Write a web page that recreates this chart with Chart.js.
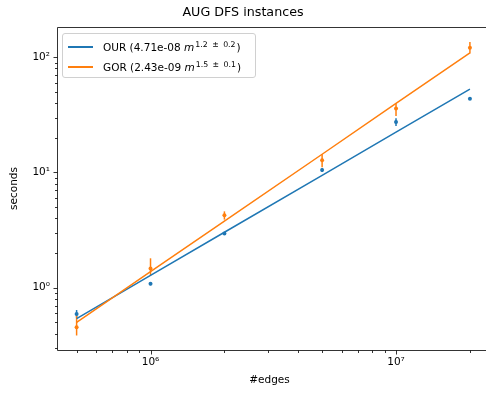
<!DOCTYPE html>
<html lang="en">
<head>
<meta charset="UTF-8">
<title>AUG DFS instances</title>
<script src="https://cdn.jsdelivr.net/npm/chart.js"></script>
<style>
    body {
        margin: 0;
        background: #fff;
        font-family: "DejaVu Sans", sans-serif;
    }
    .wrap {
        position: relative;
        width: 486px;
        height: 394px;
        overflow: hidden;
    }
    .legend {
        position: absolute;
        left: 62px;
        top: 33px;
        width: 194px;
        height: 45px;
        box-sizing: border-box;
        padding: 3px 0 0 5px;
        border: 1px solid #d0d0d0;
        border-radius: 3px;
        background: rgba(255, 255, 255, 0.8);
        font-size: 10.5px;
        color: #000;
    }
    .legend .row {
        height: 20px;
        display: flex;
        align-items: center;
        white-space: nowrap;
    }
    .legend .swatch {
        display: inline-block;
        width: 25px;
        height: 0;
        border-top: 2px solid;
        margin-right: 10px;
    }
    .legend sup {
        font-size: 7.8px;
        vertical-align: 4.5px;
        line-height: 0;
        word-spacing: 2px;
        margin-left: 1px;
        margin-right: 1px;
    }
</style>
</head>
<body>
<div class="wrap">
    <canvas id="chart" width="486" height="394"></canvas>
    <div class="legend" id="legend"></div>
</div>
<script>
    // measured instances
    const edges = [5e5, 1e6, 2e6, 5e6, 1e7, 2e7];
    const ourTime = [0.59, 1.08, 2.95, 10.5, 27.5, 43.6];
    const ourLow  = [0.55, 1.05, 2.87, 10.1, 25.3, 42.6];
    const ourHigh = [0.64, 1.11, 3.03, 10.9, 29.6, 44.6];
    const gorTime = [0.454, 1.47, 4.25, 12.8, 36, 121];
    const gorLow  = [0.385, 1.28, 3.9, 11.1, 31, 108];
    const gorHigh = [0.57, 1.8, 4.6, 14.4, 40, 136];
    // power-law fits evaluated at the same sizes
    const ourFit = [0.54, 1.28, 3.03, 9.46, 22.4, 53];
    const gorFit = [0.50, 1.38, 3.79, 14.4, 39.8, 109];

    const names = ['OUR', 'GOR'];
    const coefs = ['4.71e-08', '2.43e-09'];
    const exps = ['1.2 ± 0.2', '1.5 ± 0.1'];
    const colors = ['#1f77b4', '#ff7f0e'];

    const legend = document.getElementById('legend');
    names.forEach((n, i) => {
        const row = document.createElement('div');
        row.className = 'row';
        row.innerHTML = `<span class="swatch" style="border-color:${colors[i]}"></span>` +
            `<span>${n} (${coefs[i]} <i>m</i><sup>${exps[i]}</sup>)</span>`;
        legend.appendChild(row);
    });

    const pts = (xs, ys) => xs.map((x, i) => ({ x: x, y: ys[i] }));
    const sup = '⁰¹²³⁴⁵⁶⁷⁸⁹';
    const isPow10 = v => Math.abs(Math.log10(v) - Math.round(Math.log10(v))) < 1e-9;
    const keepNice = scale => {
        scale.ticks = scale.ticks.filter(t => {
            const p = Math.floor(Math.log10(t.value) + 1e-9);
            const s = t.value / Math.pow(10, p);
            return Math.abs(s - Math.round(s)) < 1e-6;
        });
    };
    const powLabel = v => {
        if (!isPow10(v)) return '';
        return '10' + String(Math.round(Math.log10(v))).split('').map(d => sup[+d]).join('');
    };

    // error bars, drawn through the scales
    const errorBars = {
        id: 'errorBars',
        beforeDatasetsDraw(chart) {
            const { ctx, scales: { x, y } } = chart;
            const sets = [[ourLow, ourHigh, colors[0]], [gorLow, gorHigh, colors[1]]];
            ctx.save();
            ctx.lineWidth = 1.5;
            sets.forEach(([lo, hi, c]) => {
                ctx.strokeStyle = c;
                edges.forEach((e, i) => {
                    const px = x.getPixelForValue(e);
                    ctx.beginPath();
                    ctx.moveTo(px, y.getPixelForValue(lo[i]));
                    ctx.lineTo(px, y.getPixelForValue(hi[i]));
                    ctx.stroke();
                });
            });
            ctx.restore();
        }
    };

    // matplotlib-like spines and tick marks (right spine falls outside the figure)
    const frame = {
        id: 'frame',
        afterDraw(chart) {
            const { ctx, chartArea: a, scales: { x, y } } = chart;
            const l = Math.round(a.left) + 0.5, t = Math.round(a.top) + 0.5, b = Math.round(a.bottom) + 0.5;
            ctx.save();
            ctx.strokeStyle = '#000';
            ctx.lineWidth = 0.8;
            ctx.beginPath();
            x.ticks.forEach(tk => {
                const px = Math.round(x.getPixelForValue(tk.value)) + 0.5;
                ctx.moveTo(px, b);
                ctx.lineTo(px, b + (isPow10(tk.value) ? 4 : 2.5));
            });
            y.ticks.forEach(tk => {
                const py = Math.round(y.getPixelForValue(tk.value)) + 0.5;
                ctx.moveTo(l, py);
                ctx.lineTo(l - (isPow10(tk.value) ? 4 : 2.5), py);
            });
            ctx.moveTo(chart.width, t);
            ctx.lineTo(l, t);
            ctx.lineTo(l, b);
            ctx.lineTo(chart.width, b);
            ctx.stroke();
            ctx.restore();
        }
    };

    Chart.defaults.font.family = '"DejaVu Sans", sans-serif';
    Chart.defaults.color = '#000';

    new Chart(document.getElementById('chart'), {
        type: 'scatter',
        data: {
            datasets: [
                { label: 'OUR fit', data: pts(edges, ourFit), showLine: true, borderColor: colors[0],
                  borderWidth: 1.5, pointRadius: 0, order: 3 },
                { label: 'GOR fit', data: pts(edges, gorFit), showLine: true, borderColor: colors[1],
                  borderWidth: 1.5, pointRadius: 0, order: 1 },
                { label: 'OUR', data: pts(edges, ourTime), backgroundColor: colors[0], borderWidth: 0,
                  pointRadius: 2, order: 4 },
                { label: 'GOR', data: pts(edges, gorTime), backgroundColor: colors[1], borderWidth: 0,
                  pointRadius: 2, order: 2 }
            ]
        },
        options: {
            responsive: false,
            animation: false,
            layout: { padding: 0 },
            plugins: {
                legend: { display: false },
                tooltip: { enabled: false },
                title: {
                    display: true,
                    text: 'AUG DFS instances',
                    color: '#000',
                    font: { size: 12.7, weight: 'normal' },
                    padding: { top: 5.5, bottom: 6.3 }
                }
            },
            scales: {
                x: {
                    type: 'logarithmic',
                    min: 4.16e5,
                    max: 2.24e7,
                    afterBuildTicks: keepNice,
                    afterFit: s => { s.height = 44; s.paddingLeft = 0; s.paddingRight = 0; },
                    grid: { display: false, drawTicks: true, tickLength: 4 },
                    border: { display: false },
                    ticks: { autoSkip: false, maxRotation: 0, padding: 2, font: { size: 10.5 }, callback: powLabel },
                    title: { display: true, text: '#edges', font: { size: 10.5 }, padding: { top: 0, bottom: 7 } }
                },
                y: {
                    type: 'logarithmic',
                    min: 0.288,
                    max: 183,
                    afterBuildTicks: keepNice,
                    afterFit: s => { s.width = 57; s.paddingTop = 0; s.paddingBottom = 0; },
                    grid: { display: false, drawTicks: true, tickLength: 4 },
                    border: { display: false },
                    ticks: { autoSkip: false, padding: 3, font: { size: 10.5 }, callback: powLabel },
                    title: { display: true, text: 'seconds', font: { size: 10.5 }, padding: { top: 8, bottom: 0 } }
                }
            }
        },
        plugins: [errorBars, frame]
    });
</script>
</body>
</html>
